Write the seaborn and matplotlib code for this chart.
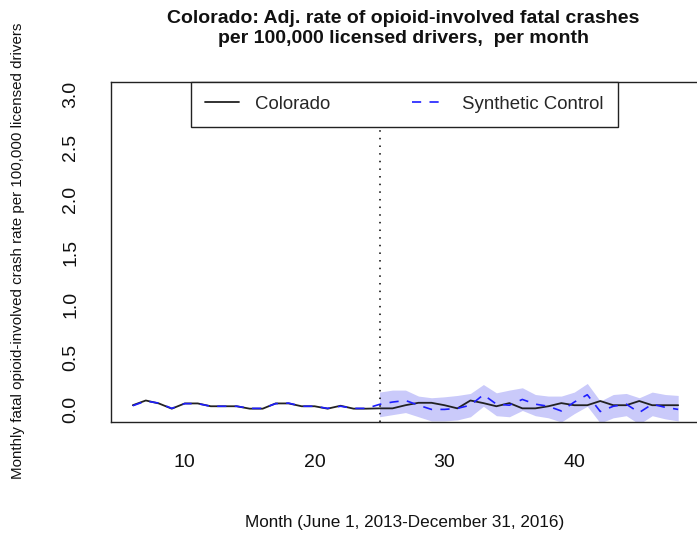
import matplotlib
matplotlib.use("Agg")
import matplotlib.pyplot as plt
import seaborn as sns
import pandas as pd

# Monthly series (month index 6..48)
months = list(range(6, 49))
colorado = [0.040, 0.085, 0.057, 0.007, 0.057, 0.057, 0.030, 0.030, 0.030, 0.007,
            0.007, 0.057, 0.057, 0.030, 0.030, 0.007, 0.035, 0.007, 0.007, 0.010,
            0.010, 0.040, 0.063, 0.063, 0.040, 0.010, 0.085, 0.060, 0.030, 0.060,
            0.010, 0.010, 0.030, 0.060, 0.040, 0.040, 0.080, 0.040, 0.040, 0.080,
            0.040, 0.040, 0.040]
synthetic = [0.035, 0.080, 0.060, 0.010, 0.055, 0.055, 0.030, 0.030, 0.030, 0.010,
             0.010, 0.055, 0.060, 0.030, 0.030, 0.010, 0.030, 0.010, 0.010, 0.048,
             0.070, 0.085, 0.040, 0.000, 0.000, 0.010, 0.040, 0.140, 0.050, 0.040,
             0.095, 0.050, 0.030, -0.015, 0.070, 0.140, -0.020, 0.030, 0.050, -0.030,
             0.050, 0.020, 0.000]

# Uncertainty band for the post-treatment period
band_months = list(range(25, 49))
band_upper = [0.165, 0.184, 0.184, 0.127, 0.111, 0.120, 0.133, 0.152, 0.237, 0.158,
              0.184, 0.206, 0.142, 0.127, 0.127, 0.165, 0.247, 0.079, 0.142, 0.152,
              0.111, 0.165, 0.142, 0.133]
band_lower = [-0.070, -0.050, -0.030, -0.070, -0.110, -0.110, -0.100, -0.070, 0.030, -0.060,
              -0.070, -0.010, -0.060, -0.080, -0.120, -0.040, 0.030, -0.130, -0.080, -0.060,
              -0.140, -0.060, -0.090, -0.110]

treatment_month = 25
x_ticks = [10, 20, 30, 40]
y_ticks = [0.0, 0.5, 1.0, 1.5, 2.0, 2.5, 3.0]

sns.set_style("white")
plt.rcParams["font.family"] = ["Liberation Sans", "DejaVu Sans"]

df = pd.DataFrame({"month": months, "Colorado": colorado, "Synthetic Control": synthetic})

fig = plt.figure(figsize=(6.97, 5.40), dpi=100)
ax = fig.add_axes([111 / 697, 1 - 422 / 540, 589 / 697, 340 / 540])

ax.fill_between(band_months, band_lower, band_upper, color="#cacafa", lw=0, zorder=1)
ax.axvline(treatment_month, color="black", lw=1.1, linestyle=(0, (1, 4)), zorder=2)

sns.lineplot(data=df, x="month", y="Colorado", ax=ax, color="#222222", lw=1.3,
             label="Colorado", zorder=3)
sns.lineplot(data=df, x="month", y="Synthetic Control", ax=ax, color="#1e1eff", lw=1.2,
             dashes=False, label="Synthetic Control", zorder=4)
ax.lines[-1].set_dashes((5.5, 5))

ax.set_xlim(4.32, 49.68)
ax.set_ylim(-0.12, 3.12)
ax.set_xticks(x_ticks)
ax.set_yticks(y_ticks)
ax.set_yticklabels([f"{v:.1f}" for v in y_ticks], rotation=90, va="center")

for side in ["left", "top", "bottom", "right"]:
    ax.spines[side].set_color("#222222")
    ax.spines[side].set_linewidth(1.0)

ax.tick_params(axis="both", direction="out", length=11, width=0.9, color="#222222",
               labelsize=14, labelcolor="#111111")
ax.tick_params(axis="x", pad=12)
ax.tick_params(axis="y", pad=12)
ax.grid(False)

ax.set_xlabel("")
ax.set_ylabel("")
fig.text(405 / 697, 1 - 522 / 540, "Month (June 1, 2013-December 31, 2016)",
         ha="center", va="center", fontsize=12.3, color="#111111")
fig.text(18 / 697, 1 - 251 / 540,
         "Monthly fatal opioid-involved crash rate per 100,000 licensed drivers",
         ha="center", va="center", rotation=90, fontsize=10.9, color="#111111")
fig.text(403 / 697, 1 - 28.5 / 540,
         "Colorado: Adj. rate of opioid-involved fatal crashes\nper 100,000 licensed drivers,  per month",
         ha="center", va="center", fontsize=14, fontweight="bold", linespacing=1.22,
         color="#111111")

leg = ax.legend(loc="upper center", bbox_to_anchor=(0.4985, 1.0), ncol=2, frameon=True,
                fancybox=False, shadow=False, borderaxespad=0, fontsize=13.4,
                handlelength=1.83, handletextpad=0.86, columnspacing=4.4, borderpad=0.75)
leg.get_frame().set_edgecolor("#222222")
leg.get_frame().set_linewidth(1.0)
leg.get_frame().set_facecolor("white")
leg.get_frame().set_alpha(1.0)
leg.set_zorder(10)

fig.savefig("out.png", dpi=100)
